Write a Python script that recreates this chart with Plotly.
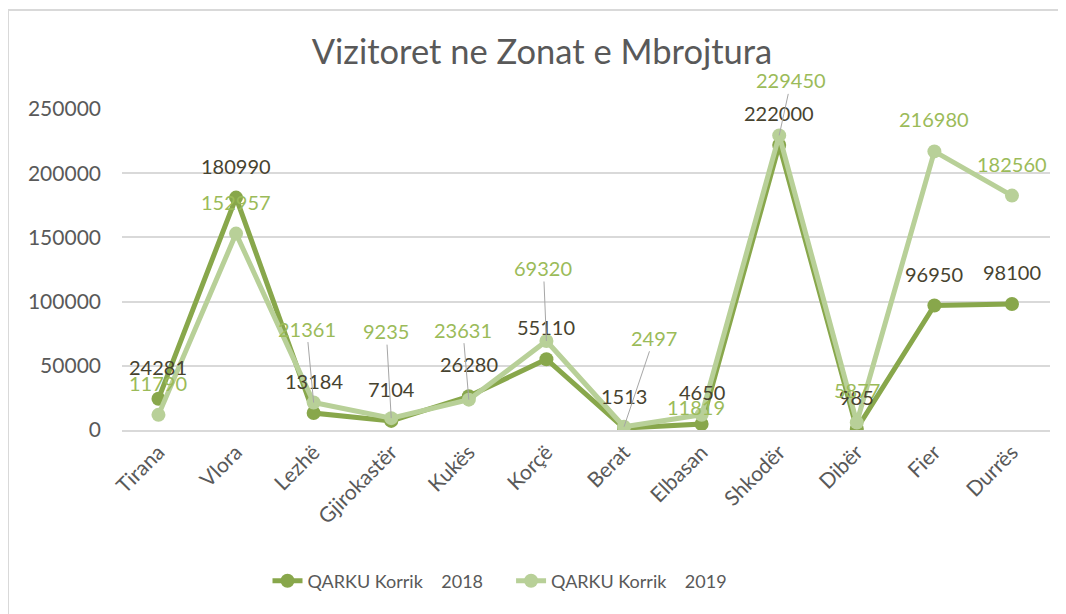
import plotly.graph_objects as go

categories = ["Tirana", "Vlora", "Lezhë", "Gjirokastër", "Kukës", "Korçë",
              "Berat", "Elbasan", "Shkodër", "Dibër", "Fier", "Durrës"]
values_2018 = [24281, 180990, 13184, 7104, 26280, 55110, 1513, 4650, 222000, 985, 96950, 98100]
values_2019 = [11790, 152957, 21361, 9235, 23631, 69320, 2497, 11819, 229450, 5877, 216980, 182560]
y_ticks = [0, 50000, 100000, 150000, 200000, 250000]

NB = "\u00a0"
name_2018 = "QARKU Korrik" + NB * 4 + "2018" + NB * 5
name_2019 = "QARKU Korrik" + NB * 4 + "2019"

C2018_LINE = "#88A74B"
C2019_LINE = "#B8D098"
C2018_TXT = "#47432F"
C2019_TXT = "#9BBB59"
FONT = "Lato, 'Open Sans', sans-serif"
LBL = 20

# page body has an 8px margin: figure is sized/offset to compensate
W, H = 1058, 606
ML, MR, MT, MB = 114, 16, 101, 184
PW = W - ML - MR
PH = H - MT - MB
BOTTOM = MT + PH

# label placement styles (pixel offsets) for 2019 labels with leader lines
leader_2019 = {2: (-7, -74), 3: (-5, -87), 4: (-6, -70), 5: (-3, -73), 6: (30, -89), 8: (12, -55)}
shift_2019 = {7: (-6, 8)}

fig = go.Figure()
fig.add_trace(go.Scatter(x=categories, y=values_2018, mode="lines+markers", name=name_2018,
                         line=dict(color=C2018_LINE, width=5),
                         marker=dict(color=C2018_LINE, size=14)))
fig.add_trace(go.Scatter(x=categories, y=values_2019, mode="lines+markers", name=name_2019,
                         line=dict(color=C2019_LINE, width=5),
                         marker=dict(color=C2019_LINE, size=14)))

annotations = []
for i, (c, v) in enumerate(zip(categories, values_2018)):
    annotations.append(dict(x=c, y=v, text=str(v), showarrow=False, yshift=32,
                            font=dict(family=FONT, size=LBL, color=C2018_TXT)))
for i, (c, v) in enumerate(zip(categories, values_2019)):
    f = dict(family=FONT, size=LBL, color=C2019_TXT)
    if i in leader_2019:
        ax, ay = leader_2019[i]
        annotations.append(dict(x=c, y=v, text=str(v), showarrow=True, ax=ax, ay=ay,
                                arrowhead=0, arrowwidth=1, arrowcolor="#A6A6A6",
                                standoff=0, startstandoff=0, font=f))
    elif i in shift_2019:
        dx, dy = shift_2019[i]
        annotations.append(dict(x=c, y=v, text=str(v), showarrow=False, xshift=dx, yshift=dy, font=f))
    else:
        annotations.append(dict(x=c, y=v, text=str(v), showarrow=False, yshift=32, font=f))

fig.update_layout(
    width=W, height=H,
    margin=dict(l=ML, r=MR, t=MT, b=MB),
    paper_bgcolor="white", plot_bgcolor="white",
    font=dict(family=FONT, color="#595959", size=20),
    title=dict(text="Vizitoret ne Zonat e Mbrojtura", x=(534 - ML) / PW, xref="paper", xanchor="center",
               y=1 - 44 / H, yref="container", yanchor="middle",
               font=dict(family=FONT, size=34.5, color="#595959")),
    xaxis=dict(type="category", tickangle=-45, showgrid=False, showline=True,
               range=[-0.47, 11.49],
               linecolor="#D9D9D9", linewidth=1.5, ticks="", zeroline=False,
               tickfont=dict(family=FONT, size=21, color="#595959")),
    yaxis=dict(range=[0, 250000], tickvals=y_ticks, ticktext=[str(t) for t in y_ticks],
               showgrid=True, gridcolor="#D9D9D9", gridwidth=1.5, zeroline=False,
               showline=False, ticks="", ticklabelstandoff=20,
               tickfont=dict(family=FONT, size=21, color="#595959")),
    legend=dict(orientation="h", x=(492 - ML) / PW, xanchor="center", y=(BOTTOM - 573) / PH, yanchor="middle",
                font=dict(family=FONT, size=18, color="#595959"), bgcolor="rgba(0,0,0,0)"),
    annotations=annotations,
    shapes=[dict(type="rect", xref="paper", yref="paper",
                 x0=(0 - ML) / PW, x1=(1080 - ML) / PW,
                 y0=(BOTTOM - 640) / PH, y1=(BOTTOM - 2) / PH,
                 line=dict(color="#D9D9D9", width=2), layer="below")],
)

fig.write_html("out.html")
